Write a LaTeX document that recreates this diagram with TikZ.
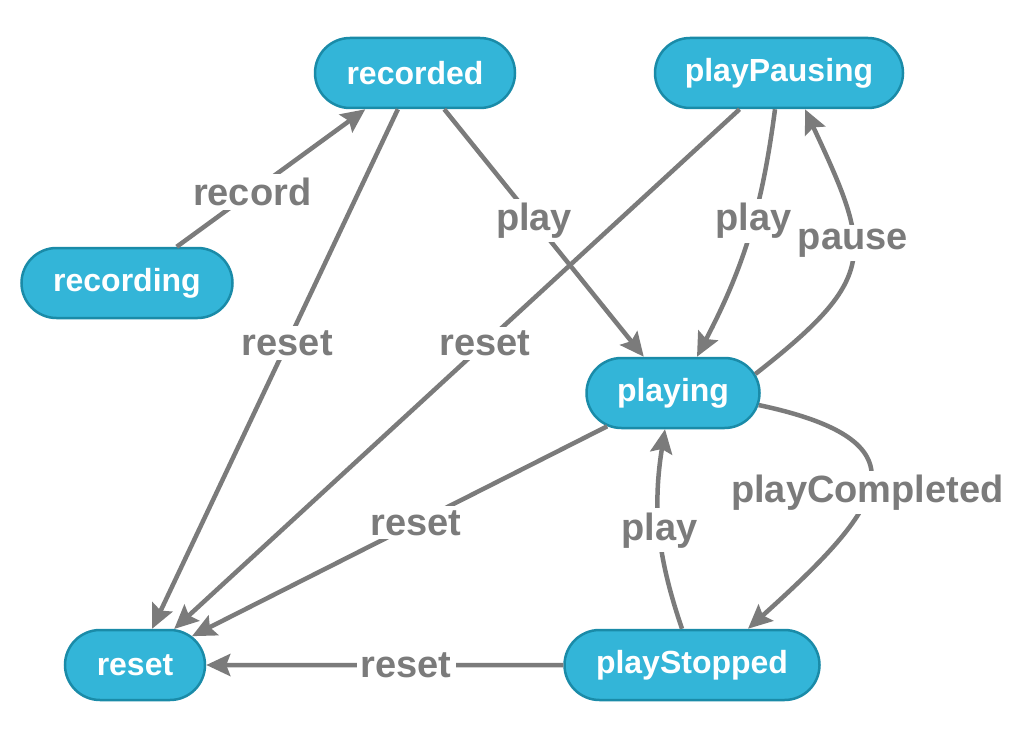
\documentclass[tikz,border=0pt]{standalone}
\usepackage{fontspec}
\setmainfont{Liberation Sans}
\usetikzlibrary{arrows.meta,shapes.misc}
\definecolor{statefill}{HTML}{33B5D8}
\definecolor{stateborder}{HTML}{1A8BA8}
\definecolor{edgegray}{HTML}{7B7B7B}

\begin{document}
\begin{tikzpicture}[x=1pt,y=1pt,
    state/.style={rounded rectangle,fill=statefill,draw=stateborder,line width=2.5pt,
      minimum height=70pt,inner xsep=0pt,text=white,font=\fontsize{32}{32}\selectfont\bfseries},
    trans/.style={draw=edgegray,line width=4.5pt,-{Stealth[length=24pt,width=22pt,inset=4pt]}},
    lbl/.style={fill=white,text=edgegray,inner sep=4pt,font=\fontsize{38}{38}\selectfont\bfseries}]
  \useasboundingbox (0,0) rectangle (1024,-746);
  \node[state,minimum width=200pt] (recorded) at (415,-73) {recorded};
  \node[state,minimum width=248pt] (playPausing) at (779,-73) {playPausing};
  \node[state,minimum width=211pt] (recording) at (127,-283) {recording};
  \node[state,minimum width=173pt] (playing) at (673,-393) {playing};
  \node[state,minimum width=140pt] (reset) at (135,-665) {reset};
  \node[state,minimum width=255pt] (playStopped) at (692,-665) {playStopped};
  \draw[trans] (recording) -- node[lbl,pos=0.4] {record} (recorded);
  \draw[trans] (recorded) -- node[lbl,pos=0.45] {play} (playing);
  \draw[trans] (recorded) -- node[lbl,pos=0.45] {reset} (reset);
  \draw[trans] (playPausing) -- node[lbl,pos=0.45] {reset} (reset);
  \draw[trans] ([xshift=-4pt]playPausing.south) to[bend left=10] node[lbl,pos=0.43] {play} ([xshift=24pt]playing.north);
  \draw[trans] (playing.13) to[out=38,in=-65,looseness=1.5] node[lbl,pos=0.57] {pause} ([xshift=26pt]playPausing.south);
  \draw[trans] (playing) -- node[lbl,pos=0.46] {reset} (reset);
  \draw[trans] (playing.-8) to[out=-12,in=42,looseness=2.05] node[lbl,pos=0.53] {playCompleted} ([xshift=56pt]playStopped.north);
  \draw[trans] ([xshift=-10pt]playStopped.north) to[bend left=14] node[lbl] {play} ([xshift=-8pt]playing.south);
  \draw[trans] (playStopped) -- node[lbl,pos=0.44] {reset} (reset);
\end{tikzpicture}
\end{document}
